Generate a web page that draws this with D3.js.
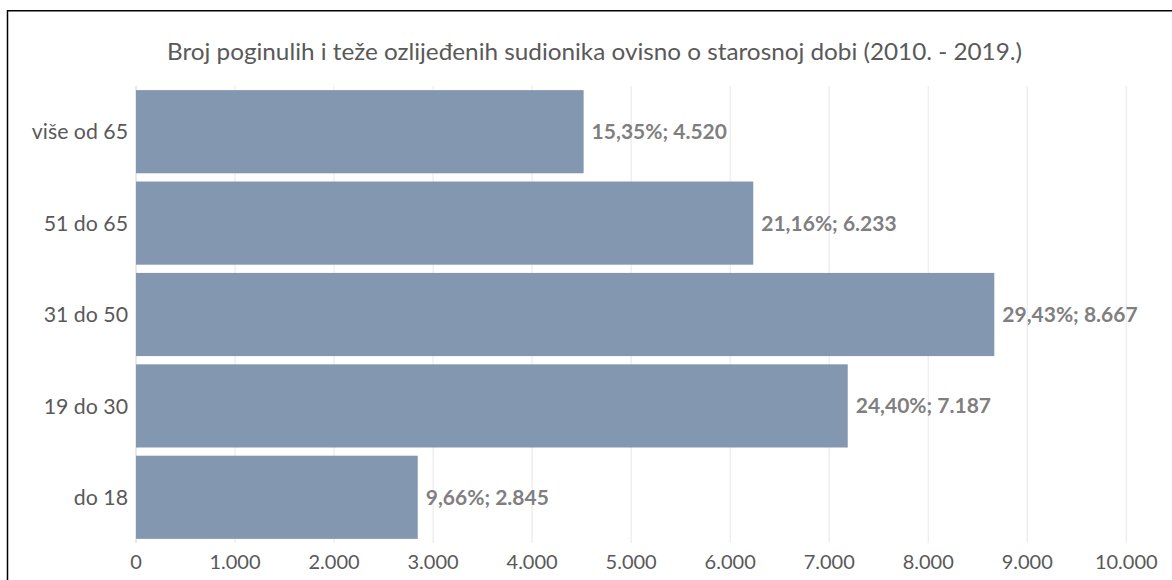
<!DOCTYPE html>
<html>
<head>
<meta charset="utf-8">
<script src="https://cdn.jsdelivr.net/npm/d3@7"></script>
<style>
  html, body { margin: 0; padding: 0; background: #fff; }
  svg text { font-family: Lato, "Open Sans", sans-serif; }
</style>
</head>
<body>
<div id="chart"></div>
<script>
const width = 1172;
const height = 580;

// data
const categories = ["više od 65", "51 do 65", "31 do 50", "19 do 30", "do 18"];
const counts = [4520, 6233, 8667, 7187, 2845];
const shares = ["15,35%", "21,16%", "29,43%", "24,40%", "9,66%"];
const xTicks = [0, 1000, 2000, 3000, 4000, 5000, 6000, 7000, 8000, 9000, 10000];
const title = "Broj poginulih i teže ozlijeđenih sudionika ovisno o starosnoj dobi (2010. - 2019.)";

const hr = d3.formatLocale({ decimal: ",", thousands: ".", grouping: [3], currency: ["", ""] });
const fmt = hr.format(",d");

const rows = categories.map((c, i) => ({ cat: c, value: counts[i], share: shares[i] }));

const svg = d3.select("#chart")
    .append("svg")
    .attr("width", width)
    .attr("height", height);

// outer frame (right and bottom edges fall outside the picture)
svg.append("rect")
    .attr("x", 7.5)
    .attr("y", 10.75)
    .attr("width", 1300)
    .attr("height", 700)
    .attr("fill", "none")
    .attr("stroke", "#000")
    .attr("stroke-width", 1.5);

const x = d3.scaleLinear()
    .domain([0, 10000])
    .range([136, 1126.3]);

const y = d3.scaleBand()
    .domain(categories)
    .range([86, 543])
    .paddingInner(0.09)
    .paddingOuter(0.045);

// gridlines
svg.append("g")
    .selectAll("line")
    .data(xTicks)
    .join("line")
    .attr("x1", d => x(d))
    .attr("x2", d => x(d))
    .attr("y1", 86)
    .attr("y2", 543)
    .attr("stroke", d => d === 0 ? "#d9d9d9" : "#ebebeb")
    .attr("stroke-width", 1.2);

// bars
svg.append("g")
    .selectAll("rect")
    .data(rows)
    .join("rect")
    .attr("x", x(0))
    .attr("y", d => y(d.cat))
    .attr("width", d => x(d.value) - x(0))
    .attr("height", y.bandwidth())
    .attr("fill", "#8497b0");

// data labels
svg.append("g")
    .selectAll("text")
    .data(rows)
    .join("text")
    .attr("x", d => x(d.value) + 8)
    .attr("y", d => y(d.cat) + y.bandwidth() / 2)
    .attr("dy", "0.36em")
    .attr("font-size", 21)
    .attr("font-weight", "bold")
    .attr("fill", "#7f7f7f")
    .text(d => `${d.share}; ${fmt(d.value)}`);

// category labels
svg.append("g")
    .selectAll("text")
    .data(categories)
    .join("text")
    .attr("x", 128)
    .attr("y", d => y(d) + y.bandwidth() / 2)
    .attr("dy", "0.36em")
    .attr("text-anchor", "end")
    .attr("font-size", 21.3)
    .attr("fill", "#595959")
    .text(d => d);

// x tick labels
svg.append("g")
    .selectAll("text")
    .data(xTicks)
    .join("text")
    .attr("x", d => x(d))
    .attr("y", 569)
    .attr("text-anchor", "middle")
    .attr("font-size", 20)
    .attr("fill", "#595959")
    .text(d => fmt(d));

// title
svg.append("text")
    .attr("x", 594.5)
    .attr("y", 60)
    .attr("text-anchor", "middle")
    .attr("font-size", 23)
    .attr("textLength", 855)
    .attr("lengthAdjust", "spacingAndGlyphs")
    .attr("fill", "#595959")
    .text(title);
</script>
</body>
</html>
